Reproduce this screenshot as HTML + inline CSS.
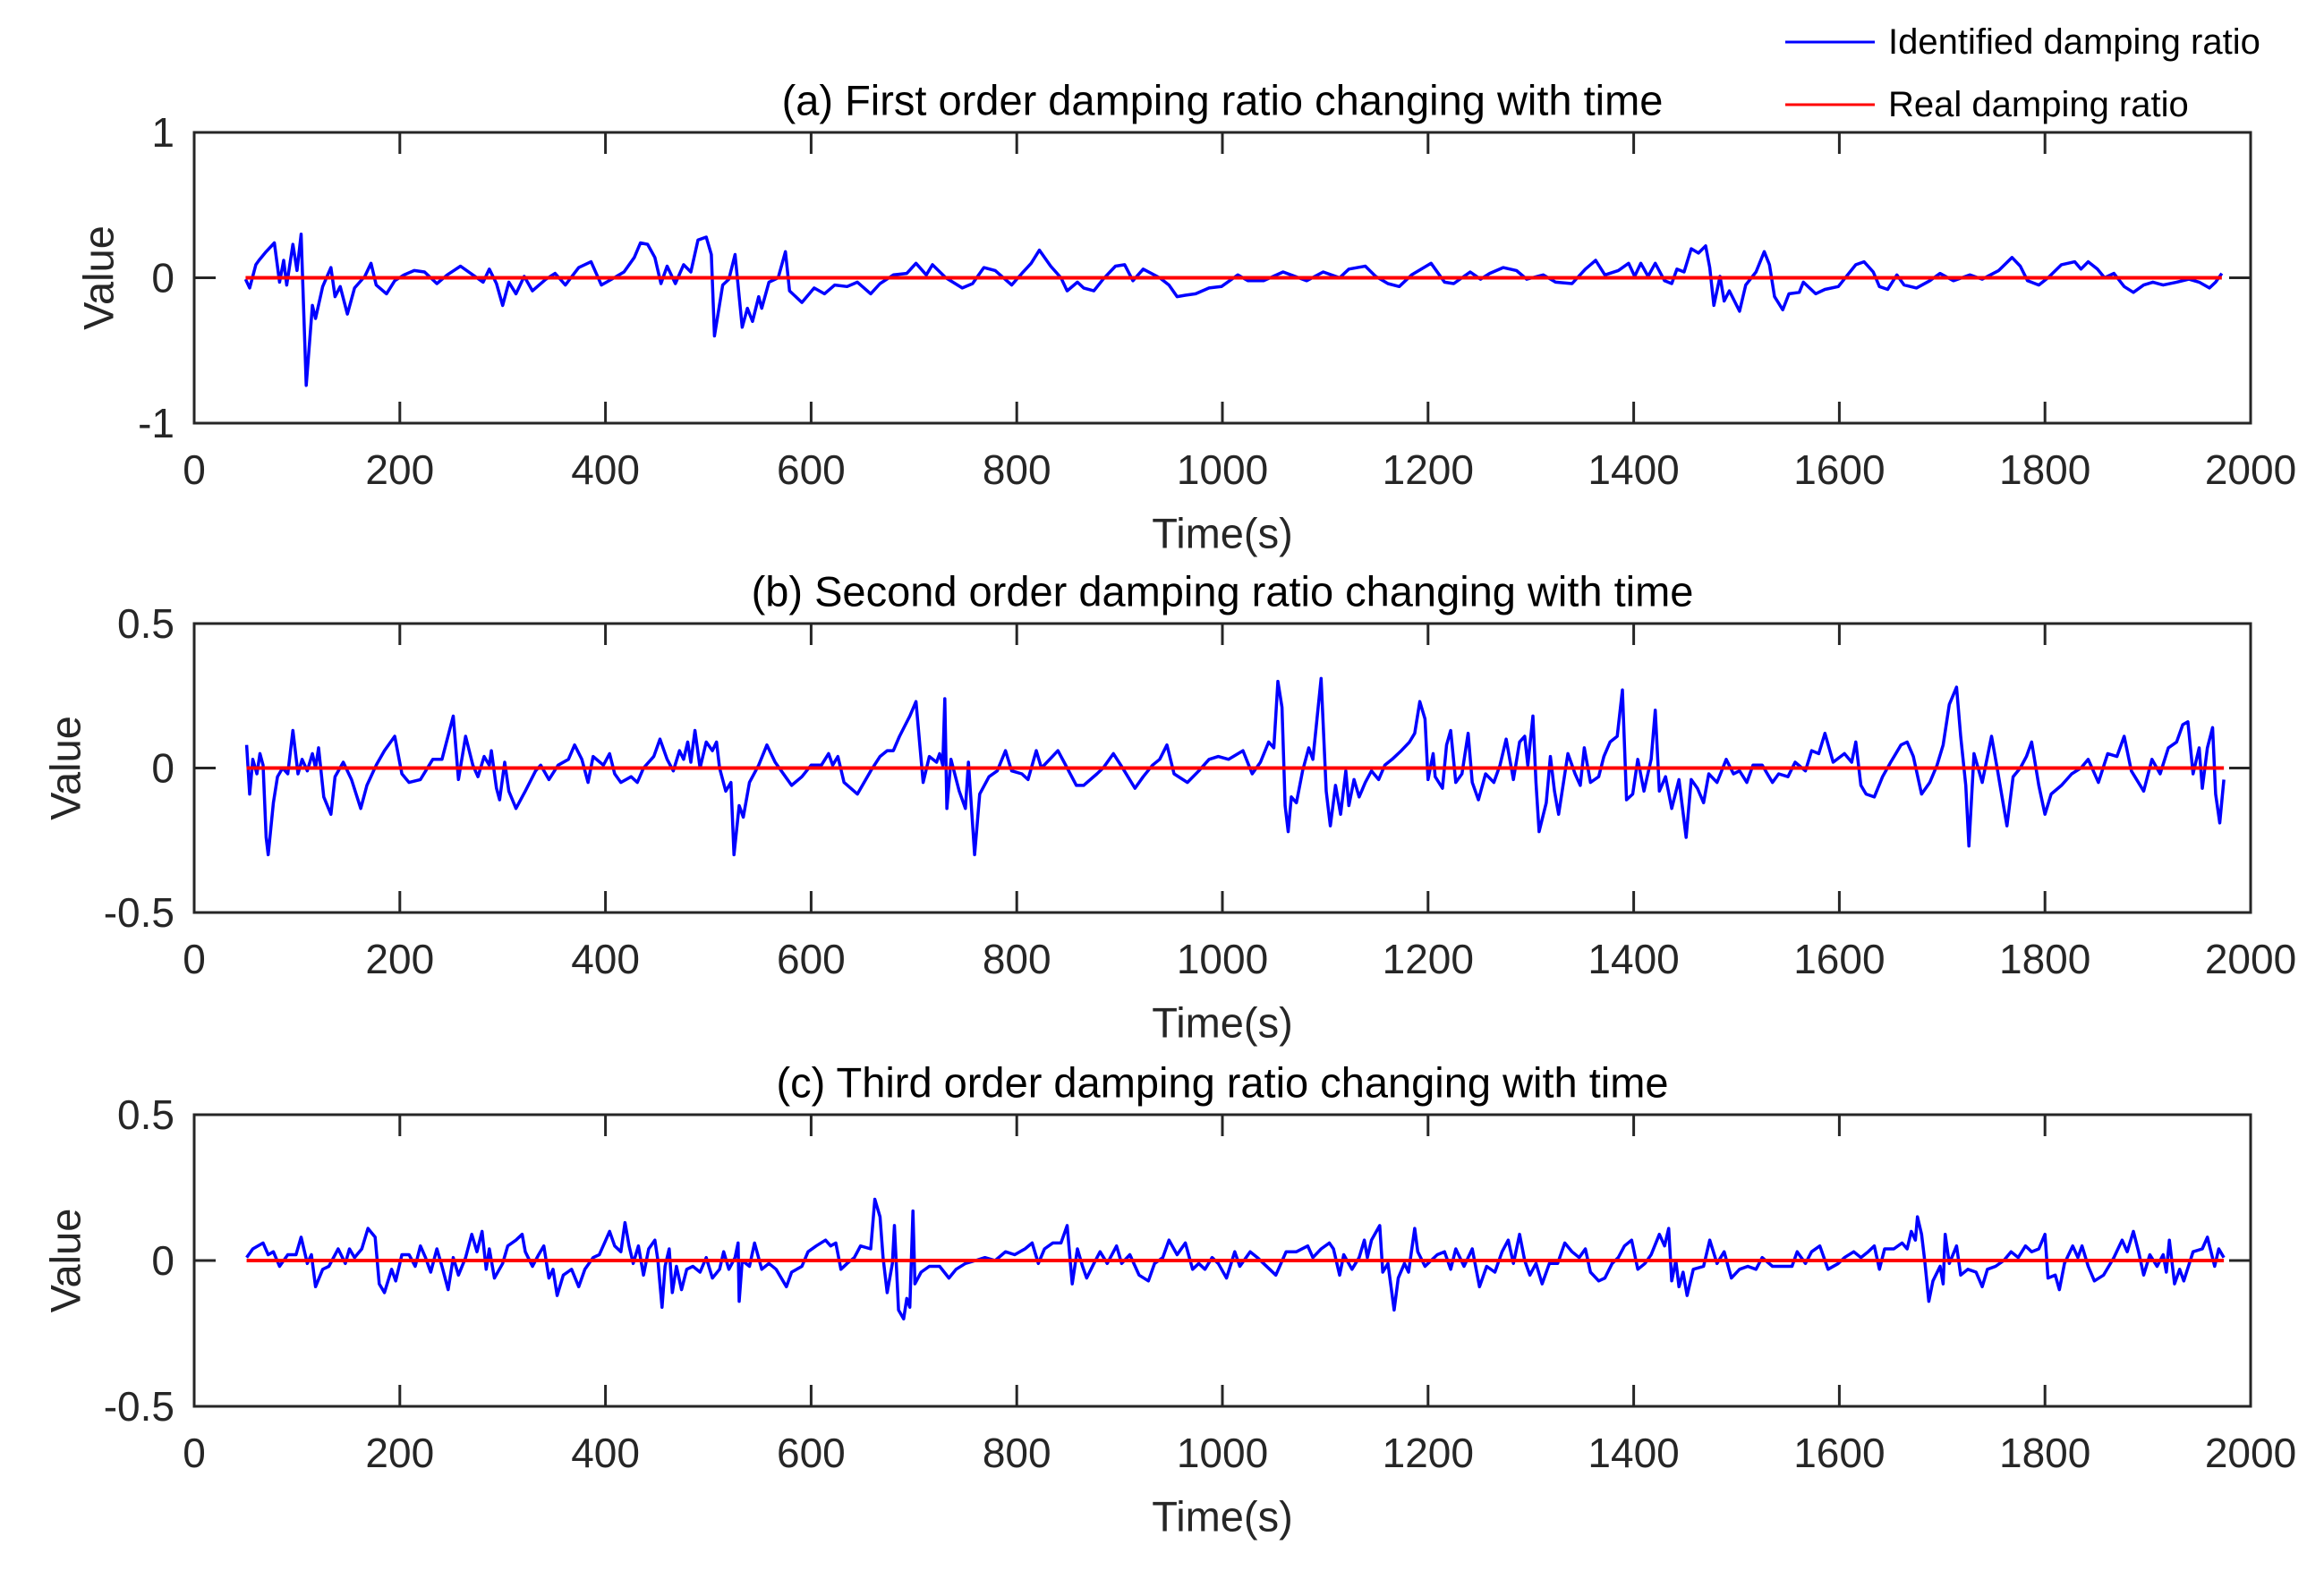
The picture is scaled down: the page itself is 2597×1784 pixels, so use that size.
<!DOCTYPE html>
<html><head><meta charset="utf-8"><style>
html,body{margin:0;padding:0;background:#fff;}
svg{display:block;font-family:"Liberation Sans",Arial,sans-serif;}
</style></head><body>
<svg id="chart" width="2597" height="1784" viewBox="0 0 2597 1784" xmlns="http://www.w3.org/2000/svg">
<rect width="2597" height="1784" fill="#fff"/>
<g id="legend">
  <line x1="1995" y1="47" x2="2095" y2="47" stroke="#0000ff" stroke-width="3"/>
  <text x="2110" y="47" font-size="40" dominant-baseline="central" fill="#000">Identified damping ratio</text>
  <line x1="1995" y1="117" x2="2095" y2="117" stroke="#ff0000" stroke-width="3"/>
  <text x="2110" y="117" font-size="40" dominant-baseline="central" fill="#000">Real damping ratio</text>
</g>
</svg>
<script>
// Panel (a)
const timeA=[50,54,60,63,70,78,83,87,90,96,100,104,109,115,118,125,133,137,142,149,156,166,172,177,187,195,204,214,224,236,246,259,271,281,287,294,300,306,313,321,329,342,351,361,374,386,396,406,418,428,434,441,448,454,460,468,476,483,490,498,503,506,514,520,526,533,538,543,549,552,559,568,575,579,591,603,613,623,635,645,658,667,680,693,702,712,718,731,747,757,768,779,795,805,814,822,833,843,849,859,865,875,884,896,905,913,923,939,948,956,964,974,987,999,1015,1025,1040,1059,1082,1098,1114,1123,1139,1149,1161,1172,1184,1203,1216,1225,1241,1251,1260,1273,1286,1296,1312,1324,1340,1353,1363,1372,1385,1395,1401,1407,1414,1421,1430,1437,1442,1449,1456,1463,1470,1474,1478,1484,1488,1493,1503,1509,1519,1527,1532,1537,1545,1551,1561,1565,1577,1586,1599,1608,1616,1624,1633,1639,1647,1656,1663,1675,1688,1698,1711,1727,1739,1755,1768,1776,1783,1794,1803,1816,1829,1835,1842,1851,1858,1867,1877,1886,1896,1905,1915,1928,1940,1950,1960,1966,1972];
const valA=[-0.01,-0.07,0.09,0.12,0.18,0.24,-0.03,0.12,-0.05,0.23,0.05,0.30,-0.74,-0.19,-0.28,-0.06,0.07,-0.13,-0.06,-0.25,-0.07,0.01,0.10,-0.05,-0.11,-0.02,0.02,0.05,0.04,-0.04,0.02,0.08,0.02,-0.03,0.06,-0.04,-0.19,-0.03,-0.11,0.01,-0.09,-0.01,0.03,-0.05,0.07,0.11,-0.05,-0.01,0.04,0.14,0.24,0.23,0.14,-0.04,0.08,-0.04,0.09,0.04,0.26,0.28,0.16,-0.40,-0.05,-0.01,0.16,-0.34,-0.21,-0.30,-0.13,-0.21,-0.03,0.0,0.18,-0.09,-0.17,-0.07,-0.11,-0.05,-0.06,-0.03,-0.11,-0.04,0.02,0.03,0.10,0.02,0.09,0.0,-0.07,-0.04,0.07,0.05,-0.05,0.03,0.10,0.19,0.08,0.0,-0.09,-0.03,-0.07,-0.09,-0.01,0.08,0.09,-0.02,0.06,0.0,-0.05,-0.13,-0.12,-0.11,-0.07,-0.06,0.02,-0.02,-0.02,0.04,-0.02,0.04,0.0,0.06,0.08,0.01,-0.04,-0.06,0.02,0.10,-0.03,-0.04,0.04,-0.01,0.03,0.07,0.05,-0.01,0.02,-0.03,-0.04,0.06,0.12,0.02,0.05,0.10,0.01,0.10,0.01,0.10,-0.02,-0.04,0.06,0.04,0.20,0.17,0.22,0.07,-0.19,0.01,-0.16,-0.09,-0.23,-0.05,0.04,0.18,0.09,-0.13,-0.22,-0.11,-0.10,-0.03,-0.11,-0.08,-0.06,0.02,0.09,0.11,0.04,-0.06,-0.08,0.02,-0.05,-0.07,-0.02,0.03,-0.02,0.02,-0.01,0.05,0.14,0.08,-0.02,-0.05,0.0,0.09,0.11,0.06,0.11,0.06,0.0,0.03,-0.06,-0.10,-0.05,-0.03,-0.05,-0.03,-0.01,-0.03,-0.07,-0.03,0.03];
// Panel (b)
const timeB=[51,54,57,61,64,67,70,72,77,81,86,91,96,101,105,110,115,118,121,126,133,137,145,153,162,168,177,185,195,202,209,220,232,241,252,257,264,271,276,282,287,289,294,297,302,306,313,322,332,337,345,354,364,370,377,383,388,398,404,409,415,425,431,437,447,453,460,466,472,476,480,483,487,492,498,504,508,511,517,522,525,530,534,540,549,557,565,575,581,591,600,610,617,621,626,632,645,658,667,674,680,686,696,702,707,709,715,722,725,728,730,732,736,744,750,753,759,764,773,781,789,795,805,811,819,824,840,846,858,865,878,884,894,903,915,923,932,939,946,953,966,977,987,996,1006,1020,1029,1037,1045,1050,1054,1058,1061,1064,1067,1072,1078,1084,1088,1092,1096,1101,1105,1110,1115,1120,1123,1128,1133,1139,1145,1152,1158,1165,1174,1182,1187,1192,1197,1200,1205,1207,1214,1218,1222,1227,1233,1239,1243,1249,1256,1264,1270,1276,1283,1289,1294,1297,1302,1305,1308,1315,1319,1323,1327,1336,1343,1348,1352,1358,1366,1371,1377,1384,1389,1393,1399,1404,1410,1417,1421,1425,1431,1437,1444,1451,1456,1462,1468,1473,1481,1490,1497,1503,1510,1516,1525,1535,1541,1550,1557,1567,1573,1580,1586,1594,1605,1612,1616,1621,1626,1634,1642,1650,1660,1666,1672,1680,1688,1695,1701,1707,1714,1718,1723,1726,1731,1739,1748,1754,1763,1769,1776,1782,1787,1794,1800,1806,1816,1826,1835,1842,1852,1861,1870,1877,1884,1896,1904,1912,1920,1928,1934,1939,1944,1950,1953,1958,1963,1966,1970,1974];
const valB=[0.08,-0.09,0.03,-0.02,0.05,0.01,-0.24,-0.30,-0.12,-0.03,0,-0.02,0.13,-0.02,0.03,-0.01,0.05,0,0.07,-0.10,-0.16,-0.03,0.02,-0.04,-0.14,-0.06,0.01,0.06,0.11,-0.02,-0.05,-0.04,0.03,0.03,0.18,-0.04,0.11,0.01,-0.03,0.04,0.01,0.06,-0.07,-0.11,0.02,-0.08,-0.14,-0.08,-0.01,0.01,-0.04,0.01,0.03,0.08,0.03,-0.05,0.04,0.01,0.05,-0.02,-0.05,-0.03,-0.05,0,0.04,0.10,0.03,-0.01,0.06,0.03,0.09,0.02,0.13,0,0.09,0.06,0.09,0,-0.08,-0.05,-0.30,-0.13,-0.17,-0.05,0.01,0.08,0.02,-0.03,-0.06,-0.03,0.01,0.01,0.05,0.01,0.04,-0.05,-0.09,-0.01,0.04,0.06,0.06,0.11,0.18,0.23,0.03,-0.05,0.04,0.02,0.05,0.01,0.24,-0.14,0.03,-0.08,-0.14,0.02,-0.30,-0.09,-0.03,-0.01,0.06,-0.01,-0.02,-0.04,0.06,0,0.06,0.02,-0.06,-0.06,-0.02,0,0.05,0,-0.07,-0.03,0.01,0.03,0.08,-0.02,-0.05,-0.01,0.03,0.04,0.03,0.06,-0.02,0.02,0.09,0.07,0.30,0.21,-0.13,-0.22,-0.10,-0.12,-0.01,0.07,0.03,0.17,0.31,-0.08,-0.20,-0.06,-0.16,-0.01,-0.13,-0.04,-0.10,-0.05,-0.01,-0.04,0.01,0.03,0.06,0.09,0.12,0.23,0.17,-0.04,0.05,-0.03,-0.07,0.08,0.13,-0.05,-0.02,0.12,-0.05,-0.11,-0.02,-0.05,0.01,0.10,-0.04,0.09,0.11,0.01,0.18,-0.05,-0.22,-0.12,0.04,-0.08,-0.16,0.05,-0.02,-0.06,0.07,-0.05,-0.03,0.04,0.09,0.11,0.27,-0.11,-0.09,0.03,-0.08,0.03,0.20,-0.08,-0.03,-0.14,-0.04,-0.24,-0.04,-0.07,-0.12,-0.02,-0.05,0.03,-0.02,-0.01,-0.05,0.01,0.01,-0.05,-0.02,-0.03,0.02,-0.01,0.06,0.05,0.12,0.02,0.05,0.02,0.09,-0.06,-0.09,-0.10,-0.03,0.02,0.08,0.09,0.04,-0.09,-0.05,0.01,0.08,0.22,0.28,0.11,-0.06,-0.27,0.05,-0.05,0.11,-0.01,-0.20,-0.03,0,0.04,0.09,-0.06,-0.16,-0.09,-0.06,-0.02,0,0.03,-0.05,0.05,0.04,0.11,-0.01,-0.08,0.03,-0.02,0.07,0.09,0.15,0.16,-0.02,0.07,-0.07,0.07,0.14,-0.09,-0.19,-0.04];
// Panel (c)
const timeC=[51,57,67,72,77,83,91,99,104,110,114,118,125,131,140,147,151,156,163,169,176,180,185,192,196,202,209,215,220,225,230,236,241,247,252,257,264,270,275,280,284,287,292,300,305,313,319,322,329,335,340,345,349,353,359,367,374,380,388,394,399,404,409,415,419,423,427,432,437,442,448,451,455,458,462,465,469,474,479,485,492,498,504,511,515,520,526,529,530,533,540,545,552,559,566,576,581,591,597,605,614,619,624,629,635,642,648,658,662,667,670,674,679,681,685,690,693,696,699,701,707,715,725,734,741,750,760,769,779,789,798,808,815,821,827,835,843,849,854,859,864,868,875,881,888,897,902,910,919,928,934,942,948,956,964,971,977,983,990,996,1004,1012,1017,1027,1034,1040,1052,1062,1072,1083,1088,1096,1104,1108,1114,1118,1126,1133,1138,1141,1145,1153,1156,1161,1167,1171,1177,1181,1187,1190,1197,1203,1209,1216,1222,1227,1235,1243,1250,1257,1265,1272,1278,1283,1289,1294,1299,1305,1311,1318,1326,1333,1340,1347,1353,1358,1366,1372,1379,1385,1391,1398,1404,1411,1417,1425,1430,1434,1437,1441,1444,1448,1452,1458,1468,1474,1481,1488,1495,1503,1511,1519,1525,1535,1545,1554,1559,1567,1573,1581,1589,1599,1605,1614,1621,1628,1634,1639,1644,1653,1661,1666,1670,1674,1676,1680,1683,1687,1691,1698,1701,1703,1707,1714,1718,1725,1733,1739,1744,1752,1760,1767,1774,1781,1787,1794,1800,1803,1810,1814,1819,1827,1832,1836,1842,1848,1857,1867,1875,1880,1886,1891,1896,1902,1909,1915,1918,1921,1926,1931,1935,1944,1953,1958,1965,1969,1974];
const valC=[0.01,0.04,0.06,0.02,0.03,-0.02,0.02,0.02,0.08,-0.01,0.02,-0.09,-0.03,-0.02,0.04,-0.01,0.04,0.01,0.04,0.11,0.08,-0.08,-0.11,-0.03,-0.07,0.02,0.02,-0.02,0.05,0.01,-0.04,0.04,-0.02,-0.10,0.01,-0.05,0.01,0.09,0.03,0.10,-0.03,0.04,-0.06,-0.01,0.05,0.07,0.09,0.03,-0.02,0.02,0.05,-0.06,-0.03,-0.12,-0.05,-0.03,-0.09,-0.03,0.01,0.02,0.06,0.10,0.05,0.03,0.13,0.05,-0.01,0.05,-0.05,0.04,0.07,0,-0.16,-0.02,0.04,-0.11,-0.02,-0.10,-0.03,-0.02,-0.04,0.01,-0.06,-0.03,0.03,-0.03,0.01,0.06,-0.14,0,-0.02,0.06,-0.03,-0.01,-0.03,-0.09,-0.04,-0.02,0.03,0.05,0.07,0.05,0.06,-0.03,-0.01,0.01,0.05,0.04,0.21,0.15,0.01,-0.11,-0.01,0.12,-0.17,-0.20,-0.13,-0.16,0.17,-0.08,-0.04,-0.02,-0.02,-0.06,-0.03,-0.01,0,0.01,0,0.03,0.02,0.04,0.06,-0.01,0.04,0.06,0.06,0.12,-0.08,0.04,-0.02,-0.06,-0.01,0.03,-0.01,0.05,-0.01,0.02,-0.05,-0.07,-0.01,0.01,0.07,0.02,0.06,-0.03,-0.01,-0.03,0.01,-0.01,-0.06,0.03,-0.02,0.03,0.01,-0.01,-0.05,0.03,0.03,0.05,0.01,0.04,0.06,0.04,-0.05,0.02,-0.03,0.01,0.07,0.01,0.07,0.12,-0.04,-0.01,-0.17,-0.06,-0.01,-0.04,0.11,0.03,-0.02,0,0.02,0.03,-0.03,0.04,-0.02,0.04,-0.09,-0.02,-0.04,0.03,0.07,-0.01,0.09,0,-0.05,-0.01,-0.08,-0.01,-0.01,0.06,0.03,0.01,0.04,-0.04,-0.07,-0.06,-0.01,0.01,0.05,0.07,-0.03,-0.01,0.02,0.09,0.05,0.11,-0.07,0,-0.09,-0.04,-0.12,-0.03,-0.02,0.07,-0.01,0.03,-0.06,-0.03,-0.02,-0.03,0.01,-0.02,-0.02,-0.02,0.03,-0.01,0.03,0.05,-0.03,-0.01,0.01,0.03,0.01,0.03,0.05,-0.03,0.04,0.04,0.06,0.04,0.10,0.07,0.15,0.09,0,-0.14,-0.07,-0.02,-0.08,0.09,-0.01,0.05,-0.05,-0.03,-0.04,-0.09,-0.03,-0.02,0,0.03,0.01,0.05,0.03,0.04,0.09,-0.06,-0.05,-0.10,-0.01,0.05,0.01,0.05,-0.02,-0.07,-0.05,0.01,0.07,0.03,0.10,0.03,-0.05,0.02,-0.02,0.02,-0.04,0.07,-0.08,-0.03,-0.07,0.03,0.04,0.08,-0.02,0.04,0.01];
const xTicks=[0,200,400,600,800,1000,1200,1400,1600,1800,2000];
const yTicksA=[-1,0,1];
const yTicksBC=[-0.5,0,0.5];
const titles=["(a) First order damping ratio changing with time","(b) Second order damping ratio changing with time","(c) Third order damping ratio changing with time"];

const NS="http://www.w3.org/2000/svg";
const svg=document.getElementById('chart');
const X0=217,X1=2515,XMIN=0,XMAX=2000;
function xs(t){return X0+(t-XMIN)/(XMAX-XMIN)*(X1-X0);}
function mk(tag,attrs,parent){const e=document.createElementNS(NS,tag);for(const k in attrs)e.setAttribute(k,attrs[k]);(parent||svg).appendChild(e);return e;}

const panels=[
 {top:148,bot:473,ymin:-1,ymax:1,ticks:yTicksA,t:timeA,v:valA,ylx:110,key:'a'},
 {top:697,bot:1020,ymin:-0.5,ymax:0.5,ticks:yTicksBC,t:timeB,v:valB,ylx:73,key:'b'},
 {top:1246,bot:1572,ymin:-0.5,ymax:0.5,ticks:yTicksBC,t:timeC,v:valC,ylx:73,key:'c'}
];
panels.forEach((p,i)=>{
  const ys=v=>p.bot-(v-p.ymin)/(p.ymax-p.ymin)*(p.bot-p.top);
  const g=mk('g',{});
  
  
  let d='';
  p.t.forEach((t,j)=>{d+=(j?'L':'M')+xs(t).toFixed(1)+' '+ys(p.v[j]).toFixed(1);});
  const blue=mk('path',{d:d,fill:'none',stroke:'#0000ff','stroke-width':3.5,'stroke-linejoin':'round'},g);
  
  
  const red=mk('line',{x1:xs(p.t[0]),x2:xs(p.t[p.t.length-1]),y1:ys(0),y2:ys(0),stroke:'#ff0000','stroke-width':4},g);
  
  
  const box=mk('rect',{x:X0,y:p.top,width:X1-X0,height:p.bot-p.top,fill:'none',stroke:'#262626','stroke-width':3},g);
  
  
  xTicks.forEach(t=>{
    const x=xs(t);
    mk('line',{x1:x,x2:x,y1:p.bot,y2:p.bot-24,stroke:'#262626','stroke-width':3},g);
    mk('line',{x1:x,x2:x,y1:p.top,y2:p.top+24,stroke:'#262626','stroke-width':3},g);
    const lb=mk('text',{x:x,y:p.bot+52,'font-size':46,'text-anchor':'middle','dominant-baseline':'central',fill:'#262626'},g);
    lb.textContent=String(t);
    
    
  });
  p.ticks.forEach(v=>{
    const y=ys(v);
    mk('line',{x1:X0,x2:X0+24,y1:y,y2:y,stroke:'#262626','stroke-width':3},g);
    mk('line',{x1:X1,x2:X1-24,y1:y,y2:y,stroke:'#262626','stroke-width':3},g);
    const lb=mk('text',{x:195,y:y,'font-size':46,'text-anchor':'end','dominant-baseline':'central',fill:'#262626'},g);
    lb.textContent=String(v);
    
    
  });
  const xl=mk('text',{x:(X0+X1)/2,y:p.bot+123,'font-size':47,'text-anchor':'middle','dominant-baseline':'central',fill:'#262626'},g);
  xl.textContent='Time(s)';
  
  
  const cy=(p.top+p.bot)/2;
  const yl=mk('text',{x:p.ylx,y:cy,'font-size':47,'text-anchor':'middle','dominant-baseline':'central',fill:'#262626',transform:'rotate(-90 '+p.ylx+' '+cy+')'},g);
  yl.textContent='Value';
  
  
  const tt=mk('text',{x:(X0+X1)/2,y:p.top-36,'font-size':47,'text-anchor':'middle','dominant-baseline':'central',fill:'#000'},g);
  tt.textContent=titles[i];
  
  
});
</script>
</body></html>
